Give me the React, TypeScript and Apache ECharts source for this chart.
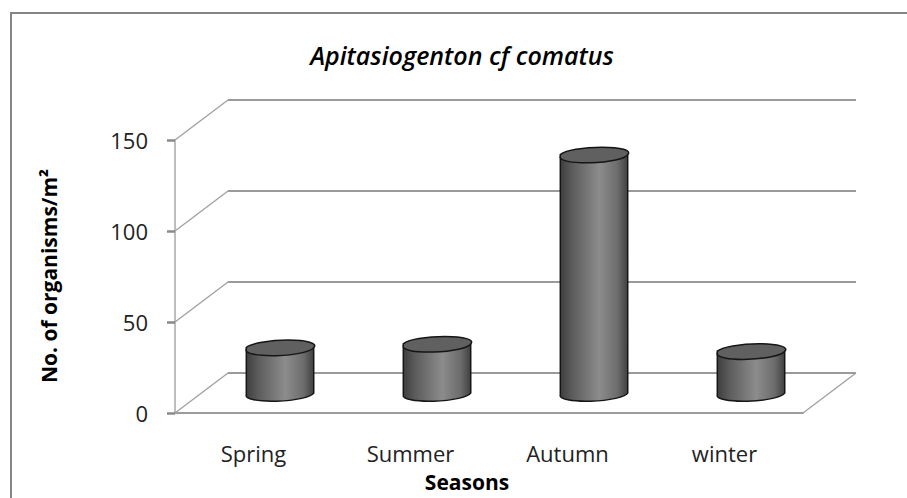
import { useEffect, useRef } from 'react';
import * as echarts from 'echarts';

const categories = ['Spring', 'Summer', 'Autumn', 'winter'];
const organisms = [25, 27, 131, 23];
const yTicks = [0, 50, 100, 150];
const titleText = 'Apitasiogenton cf comatus';
const xTitle = 'Seasons';
const yTitle = 'No. of organisms/m²';

const DX = 53;
const DY = 40;
const FONT = '"Open Sans", "DejaVu Sans", sans-serif';

export default function App() {
  const ref = useRef<HTMLDivElement>(null);
  useEffect(() => {
    const chart = echarts.init(ref.current!, null, { renderer: 'svg' });
    const option: any = {
      animation: false,
      backgroundColor: '#ffffff',
      grid: { left: 175, right: 104, top: 140, bottom: 85 },
      xAxis: {
        type: 'category',
        data: categories,
        axisLine: { show: true, lineStyle: { color: '#9c9c9c', width: 2 } },
        axisTick: { show: false },
        axisLabel: { color: '#222', fontFamily: FONT, fontSize: 22, margin: 29 },
        splitLine: { show: false },
      },
      yAxis: {
        type: 'value',
        min: 0,
        max: 150,
        interval: 50,
        axisLine: { show: true, lineStyle: { color: '#a8a8a8', width: 1.5 } },
        axisTick: { show: true, length: 8, lineStyle: { color: '#8a8a8a', width: 2.5 } },
        axisLabel: { color: '#222', fontFamily: FONT, fontSize: 22, margin: 27 },
        splitLine: { show: false },
      },
      series: [
        {
          type: 'custom',
          z: 1,
          silent: true,
          data: yTicks.map((v) => [0, v]),
          encode: { x: 0, y: 1 },
          renderItem: (params: any, api: any) => {
            const cs = params.coordSys;
            const v = api.value(1);
            const y = api.coord([0, v])[1];
            const x0 = cs.x;
            const x1 = cs.x + cs.width;
            const children: any[] = [
              { type: 'line', shape: { x1: x0, y1: y, x2: x0 + DX, y2: y - DY }, style: { stroke: '#a0a0a0', lineWidth: 1.3 } },
              { type: 'line', shape: { x1: x0 + DX, y1: y - DY, x2: x1 + DX, y2: y - DY }, style: { stroke: '#9a9a9a', lineWidth: 2 } },
            ];
            if (v === 0) {
              children.push({ type: 'line', shape: { x1: x1, y1: y, x2: x1 + DX, y2: y - DY }, style: { stroke: '#a0a0a0', lineWidth: 1.3 } });
            }
            return { type: 'group', children };
          },
        },
        {
          type: 'custom',
          z: 3,
          data: organisms.map((v, i) => [i, v]),
          encode: { x: 0, y: 1 },
          renderItem: (params: any, api: any) => {
            const i = api.value(0);
            const v = api.value(1);
            const top = api.coord([i, v]);
            const base = api.coord([i, 0]);
            const band = api.size([1, 0])[0];
            const rx = band * 0.215;
            const ry = 7;
            const cx = top[0] + DX / 2;
            const ty = top[1] - DY / 2;
            const by = base[1] - DY / 2;
            const a = 0.06;
            const ox = rx * Math.cos(a);
            const oy = rx * Math.sin(a);
            const rot = (-a * 180) / Math.PI;
            const body = `M ${cx - ox} ${ty + oy} L ${cx - ox} ${by + oy} A ${rx} ${ry} ${rot} 0 0 ${cx + ox} ${by - oy} L ${cx + ox} ${ty - oy} Z`;
            const cap = `M ${cx - ox} ${ty + oy} A ${rx} ${ry} ${rot} 0 0 ${cx + ox} ${ty - oy} A ${rx} ${ry} ${rot} 0 0 ${cx - ox} ${ty + oy} Z`;
            return {
              type: 'group',
              children: [
                {
                  type: 'path',
                  shape: { pathData: body },
                  style: {
                    fill: new echarts.graphic.LinearGradient(0, 0, 1, 0, [
                      { offset: 0, color: '#3e3e3e' },
                      { offset: 0.18, color: '#5c5c5c' },
                      { offset: 0.58, color: '#8c8c8c' },
                      { offset: 0.85, color: '#6c6c6c' },
                      { offset: 1, color: '#404040' },
                    ]),
                    stroke: '#151515',
                    lineWidth: 1.5,
                  },
                },
                {
                  type: 'path',
                  shape: { pathData: cap },
                  style: { fill: '#606060', stroke: '#151515', lineWidth: 1.5 },
                },
              ],
            };
          },
        },
      ],
      graphic: [
        {
          type: 'rect',
          silent: true,
          z: -1,
          shape: { x: 11, y: 13, width: 920, height: 520 },
          style: { fill: 'none', stroke: '#858585', lineWidth: 2 },
        },
        {
          type: 'text',
          x: 462,
          y: 55,
          style: {
            text: titleText,
            fontFamily: FONT,
            fontSize: 25,
            fontStyle: 'italic',
            fontWeight: 600,
            fill: '#000',
            align: 'center',
            verticalAlign: 'middle',
          },
        },
        {
          type: 'text',
          x: 467,
          y: 482,
          style: {
            text: xTitle,
            fontFamily: FONT,
            fontSize: 21,
            fontWeight: 'bold',
            fill: '#000',
            align: 'center',
            verticalAlign: 'middle',
          },
        },
        {
          type: 'text',
          x: 49,
          y: 276,
          rotation: Math.PI / 2,
          style: {
            text: yTitle,
            fontFamily: FONT,
            fontSize: 21,
            fontWeight: 'bold',
            fill: '#000',
            align: 'center',
            verticalAlign: 'middle',
          },
        },
      ],
    };
    chart.setOption(option);
    return () => chart.dispose();
  }, []);
  return <div ref={ref} style={{ position: 'fixed', left: 0, top: 0, width: 907, height: 498 }} />;
}
